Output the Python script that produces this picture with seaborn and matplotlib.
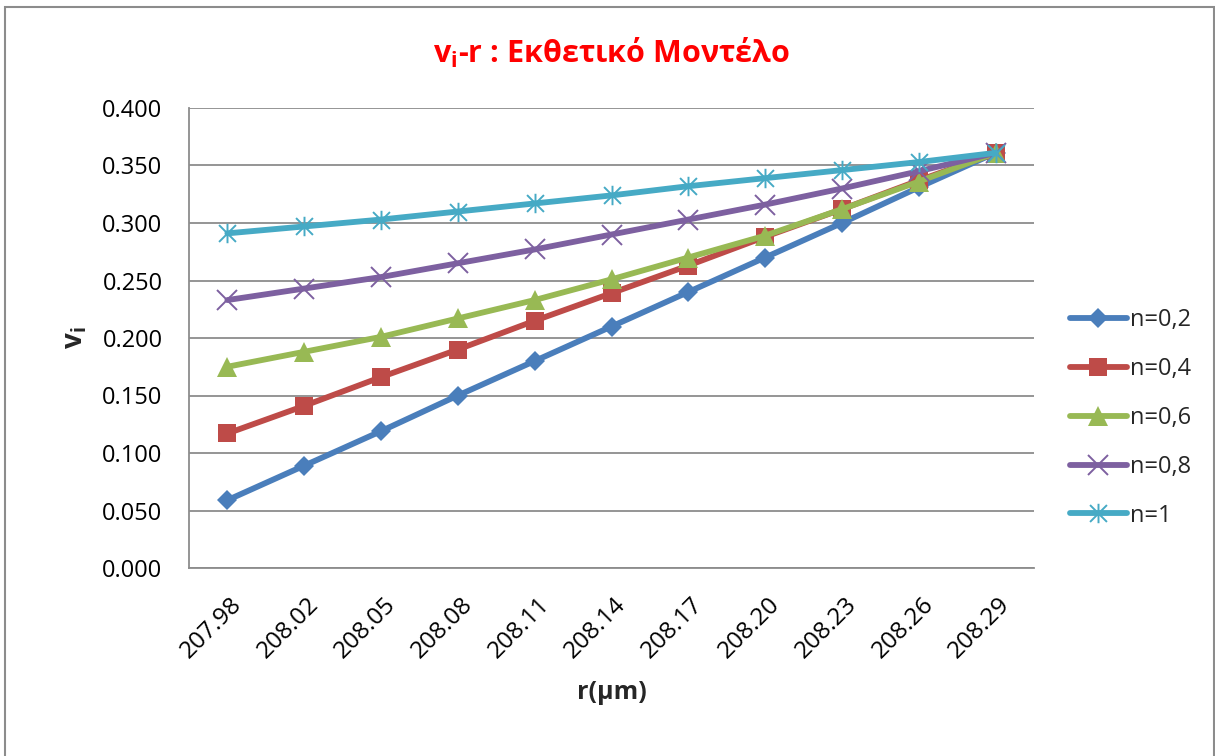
import numpy as np
import pandas as pd
import matplotlib
matplotlib.use('Agg')
import matplotlib.pyplot as plt
import matplotlib.transforms as mtransforms
from matplotlib.path import Path
from matplotlib.patches import Rectangle
import seaborn as sns

# Datos
r_labels = ['207.98', '208.02', '208.05', '208.08', '208.11', '208.14',
            '208.17', '208.20', '208.23', '208.26', '208.29']
n_02 = [0.059, 0.089, 0.119, 0.150, 0.180, 0.210, 0.240, 0.270, 0.300, 0.331, 0.361]
n_04 = [0.117, 0.141, 0.166, 0.190, 0.215, 0.239, 0.263, 0.288, 0.312, 0.337, 0.361]
n_06 = [0.175, 0.188, 0.201, 0.217, 0.233, 0.251, 0.270, 0.289, 0.312, 0.336, 0.361]
n_08 = [0.233, 0.243, 0.253, 0.265, 0.277, 0.290, 0.303, 0.316, 0.330, 0.345, 0.361]
n_10 = [0.291, 0.297, 0.303, 0.310, 0.317, 0.324, 0.332, 0.339, 0.346, 0.353, 0.361]
series_names = ['n=0,2', 'n=0,4', 'n=0,6', 'n=0,8', 'n=1']

sns.set_style('white')
plt.rcParams['font.family'] = ['Open Sans', 'DejaVu Sans']
plt.rcParams['mathtext.fontset'] = 'custom'
plt.rcParams['mathtext.rm'] = 'Open Sans'
plt.rcParams['mathtext.bf'] = 'Open Sans:bold'

# marcador asterisco estilo Excel (x + línea vertical)
star = Path([(-1, -1), (1, 1), (-1, 1), (1, -1), (0, -1.15), (0, 1.15)],
            [Path.MOVETO, Path.LINETO, Path.MOVETO, Path.LINETO, Path.MOVETO, Path.LINETO])

colors = ['#4A7EBB', '#BE4B48', '#98B954', '#7D60A0', '#46AAC5']
markers = ['D', 's', '^', 'x', star]
msizes = [10, 13.5, 14, 14, 14]
mews = [0, 0, 0, 1.4, 1.4]

fig = plt.figure(figsize=(12.15, 7.56), dpi=100)
ax = fig.add_axes([189 / 1215, 1 - 568 / 756, 845 / 1215, 460 / 756])

for vals, name, c, m, ms, mew in zip([n_02, n_04, n_06, n_08, n_10], series_names,
                                     colors, markers, msizes, mews):
    sns.lineplot(x=r_labels, y=vals, color=c, marker=m, markersize=ms,
                 markeredgewidth=mew, markeredgecolor=c, markerfacecolor=c,
                 linewidth=4.2, label=name, ax=ax, sort=False)

ax.set_xlim(-0.5, 10.5)
ax.set_ylim(0, 0.4)
ax.set_yticks(np.arange(0, 0.401, 0.05))
ax.yaxis.set_major_formatter(matplotlib.ticker.FormatStrFormatter('%.3f'))
ax.yaxis.grid(True, color='#8c8c8c', linewidth=1.3)
ax.set_axisbelow(True)
for s in ['top', 'right']:
    ax.spines[s].set_visible(False)
for s in ['left', 'bottom']:
    ax.spines[s].set_color('#8c8c8c')
    ax.spines[s].set_linewidth(1.3)
ax.tick_params(axis='both', length=0, labelsize=17, colors='black')
ax.tick_params(axis='y', pad=19)
ax.tick_params(axis='x', pad=24, labelsize=17.5)
offset = mtransforms.ScaledTranslation(8 / 72, 0, fig.dpi_scale_trans)
for lab in ax.get_xticklabels():
    lab.set_rotation(45)
    lab.set_ha('right')
    lab.set_va('center')
    lab.set_rotation_mode('anchor')
    lab.set_transform(lab.get_transform() + offset)

ax.set_xlabel('r(μm)', fontsize=18, fontweight='bold')
ax.xaxis.set_label_coords(0.5, -0.243)
ax.set_ylabel(r'$\mathbf{v_i}$', fontsize=20, fontweight='bold')
ax.yaxis.set_label_coords(-0.118, 0.5)

fig.text(611 / 1215, 1 - 53 / 756, r'$\mathbf{v_i}$-r : Εκθετικό Μοντέλο',
         color='red', fontsize=22, fontweight='bold', ha='center', va='center')

leg = ax.legend(loc='center left', bbox_to_anchor=(1070 / 1215, 1 - 418 / 756),
                bbox_transform=fig.transFigure, frameon=False, fontsize=17,
                handlelength=2.4, handletextpad=0.12, labelspacing=1.05,
                borderaxespad=0, borderpad=0)
for h in leg.get_lines():
    h.set_solid_capstyle('round')

fig.patches.append(Rectangle((5 / 1215, -0.01), 1209 / 1215, 1.01 - 7 / 756,
                             transform=fig.transFigure, fill=False,
                             edgecolor='#8c8c8c', linewidth=1.5))

plt.savefig('out.png', dpi=100)
